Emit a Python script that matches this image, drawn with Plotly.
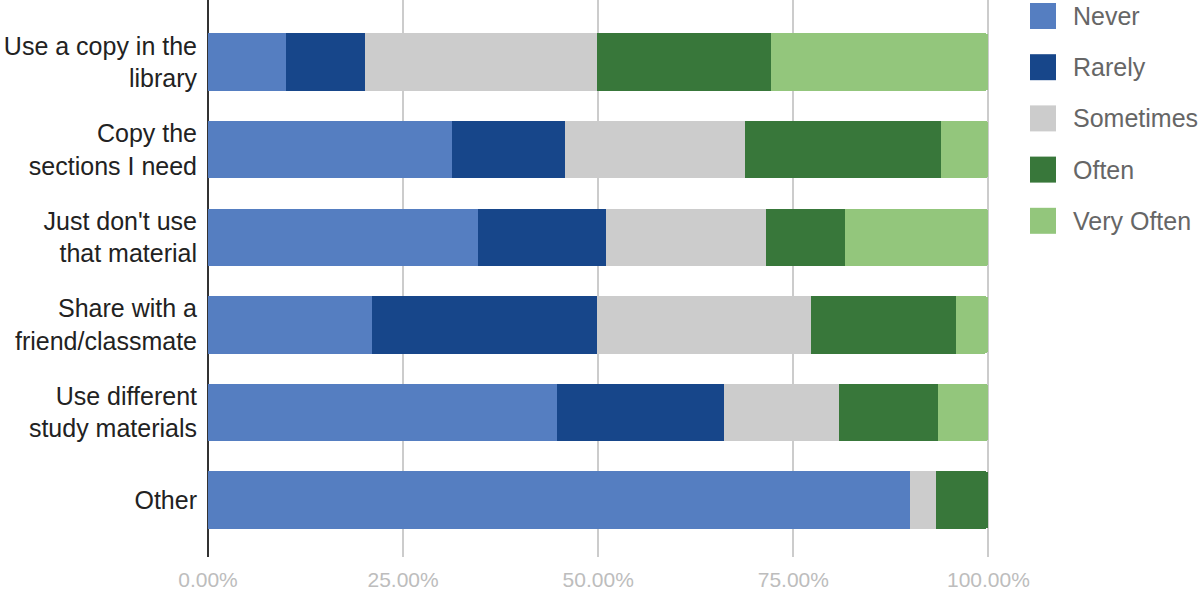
import plotly.graph_objects as go

# survey responses, share of respondents per answer (rows top to bottom)
questions = [
    "Use a copy in the<br>library",
    "Copy the<br>sections I need",
    "Just don't use<br>that material",
    "Share with a<br>friend/classmate",
    "Use different<br>study materials",
    "Other",
]
answers = ["Never", "Rarely", "Sometimes", "Often", "Very Often"]
colors = ["#557EC1", "#17468A", "#CCCCCC", "#38773A", "#93C67C"]

never = [0.100, 0.313, 0.346, 0.210, 0.447, 0.900]
rarely = [0.101, 0.145, 0.164, 0.289, 0.214, 0.000]
sometimes = [0.298, 0.230, 0.205, 0.274, 0.147, 0.033]
often = [0.222, 0.251, 0.101, 0.186, 0.128, 0.067]
very_often = [0.279, 0.061, 0.184, 0.041, 0.064, 0.000]

series = [never, rarely, sometimes, often, very_often]

W, H = 1200, 590
ML, MR, MT, MB = 208, 210, 0, 33
plot_w = W - ML - MR
plot_h = H - MT - MB

fig = go.Figure()
for name, vals, col in zip(answers, series, colors):
    fig.add_trace(go.Bar(
        y=questions,
        x=vals,
        name=name,
        orientation="h",
        marker=dict(color=col, line=dict(width=0)),
        width=0.656,
        showlegend=False,
        hovertemplate="%{y}: %{x:.1%}<extra>" + name + "</extra>",
    ))

# legend drawn by hand so the swatches can be large squares
for i, (name, col) in enumerate(zip(answers, colors)):
    cy = 16 + i * 51.2
    fig.add_shape(
        type="rect", xref="paper", yref="paper",
        x0=(1030 - ML) / plot_w, x1=(1056 - ML) / plot_w,
        y0=1 - (cy + 13) / plot_h, y1=1 - (cy - 13) / plot_h,
        fillcolor=col, line=dict(width=0),
    )
    fig.add_annotation(
        x=(1071 - ML) / plot_w, y=1 - cy / plot_h,
        xref="paper", yref="paper",
        text=name, showarrow=False,
        xanchor="left", yanchor="middle",
        font=dict(size=25, color="#666666"),
    )

fig.update_layout(
    width=W, height=H,
    margin=dict(l=ML, r=MR, t=MT, b=MB),
    barmode="stack",
    barcornerradius=4,
    plot_bgcolor="white",
    paper_bgcolor="white",
    font=dict(family="Liberation Sans, Arial, sans-serif"),
    showlegend=False,
)
fig.update_xaxes(
    range=[0, 1.002],
    dtick=0.25,
    tickformat=".2%",
    showgrid=True,
    gridcolor="#CCCCCC",
    gridwidth=1.5,
    zeroline=True,
    zerolinecolor="#333333",
    zerolinewidth=1.5,
    tickfont=dict(size=21, color="#BDBDBD"),
    ticklabelstandoff=8,
    fixedrange=True,
)
fig.update_yaxes(
    categoryorder="array",
    categoryarray=questions,
    range=[5.65, -0.708],
    tickfont=dict(size=25, color="#222222"),
    ticklabelstandoff=10,
    showgrid=False,
    fixedrange=True,
)

# drop the browser's default body margin so the figure sits at the corner
fig.write_html(
    "out.html",
    config={"displayModeBar": False},
    post_script="document.body.style.margin='0';",
)
